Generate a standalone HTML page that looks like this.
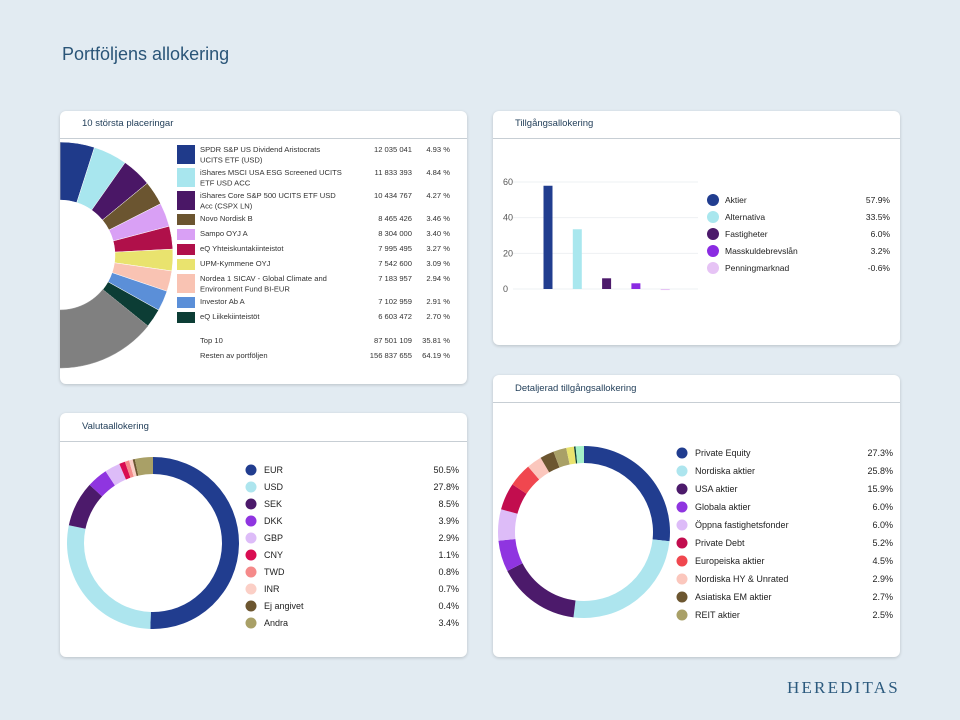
<!DOCTYPE html>
<html><head><meta charset="utf-8"><style>
body{margin:0;width:960px;height:720px;background:#e2ebf2;font-family:"Liberation Sans",sans-serif;position:relative;overflow:hidden}
.card{position:absolute;background:#fff;border-radius:6px;box-shadow:0 1px 3px rgba(0,0,0,.18);overflow:hidden}
.card .hd{position:absolute;left:0;right:0;top:0;border-bottom:1px solid #c7ced4;font-size:9.5px;color:#1f3c57;padding-left:22px;box-sizing:border-box}
svg{position:absolute;left:0;top:0}
svg text{font-family:"Liberation Sans",sans-serif}
</style></head><body>
<div style="position:absolute;left:62px;top:44px;font-size:18px;color:#2a5578">Portföljens allokering</div>
<div style="position:absolute;left:787px;top:678px;font-family:'Liberation Serif',serif;font-size:17px;letter-spacing:2.2px;color:#2c5a7e">HEREDITAS</div>

<div class="card" style="left:60px;top:111px;width:407px;height:273px">
 <div class="hd" style="height:28px;line-height:25px">10 största placeringar</div>
 <svg id="s1" width="407" height="273"></svg>
</div>
<div class="card" style="left:493px;top:111px;width:407px;height:234px">
 <div class="hd" style="height:28px;line-height:25px">Tillgångsallokering</div>
 <svg id="s2" width="407" height="234"></svg>
</div>
<div class="card" style="left:60px;top:413px;width:407px;height:244px">
 <div class="hd" style="height:29px;line-height:28px">Valutaallokering</div>
 <svg id="s3" width="407" height="244"></svg>
</div>
<div class="card" style="left:493px;top:375px;width:407px;height:282px">
 <div class="hd" style="height:28px;line-height:28px">Detaljerad tillgångsallokering</div>
 <svg id="s4" width="407" height="282"></svg>
</div>

<script>
// ---- data ----
const top10Names=[["SPDR S&P US Dividend Aristocrats","UCITS ETF (USD)"],["iShares MSCI USA ESG Screened UCITS","ETF USD ACC"],["iShares Core S&P 500 UCITS ETF USD","Acc (CSPX LN)"],["Novo Nordisk B"],["Sampo OYJ A"],["eQ Yhteiskuntakiinteistot"],["UPM-Kymmene OYJ"],["Nordea 1 SICAV - Global Climate and","Environment Fund BI-EUR"],["Investor Ab A"],["eQ Liikekiinteistöt"]];
const top10Amounts=["12 035 041","11 833 393","10 434 767","8 465 426","8 304 000","7 995 495","7 542 600","7 183 957","7 102 959","6 603 472"];
const top10Pct=[4.93,4.84,4.27,3.46,3.40,3.27,3.09,2.94,2.91,2.70];
const restPct=64.19;
const top10Colors=["#1f3a8a","#a8e6ee","#4a1766","#6b5530","#d9a0f5","#b0104a","#e9e36e","#f9c3b3","#5b8fd8","#0c3d35"];

const assetCats=["Aktier","Alternativa","Fastigheter","Masskuldebrevslån","Penningmarknad"];
const assetVals=[57.9,33.5,6.0,3.2,-0.6];
const assetTicks=[0,20,40,60];
const assetColors=["#213d8f","#a9e7ee","#4c1a6b","#8a2be2","#e6c3f5"];

const curCats=["EUR","USD","SEK","DKK","GBP","CNY","TWD","INR","Ej angivet","Andra"];
const curVals=[50.5,27.8,8.5,3.9,2.9,1.1,0.8,0.7,0.4,3.4];
const curColors=["#213d8f","#ade5ee","#4c1a6b","#8f35e0","#ddbcf8","#d90d52","#f58a8a","#fbcfc6","#6c5630","#a9a067"];

const detCats=["Private Equity","Nordiska aktier","USA aktier","Globala aktier","Öppna fastighetsfonder","Private Debt","Europeiska aktier","Nordiska HY & Unrated","Asiatiska EM aktier","REIT aktier"];
const detVals=[27.3,25.8,15.9,6.0,6.0,5.2,4.5,2.9,2.7,2.5];
const detExtraVals=[1.5,0.3,1.6];
const detColors=["#213d8f","#ade5ee","#4c1a6b","#8f35e0","#ddbcf8","#c20d4e","#f0474f","#fbc7bd","#6c5630","#a9a067"];
const detExtraColors=["#e9e36e","#0c3d35","#a4f0c8"];

const NS="http://www.w3.org/2000/svg";
function mk(svg,tag,attrs,txt){const e=document.createElementNS(NS,tag);for(const k in attrs)e.setAttribute(k,attrs[k]);if(txt!==undefined)e.textContent=txt;svg.appendChild(e);return e;}
function arc(cx,cy,r0,r1,a0,a1){
 const p=(r,a)=>[cx+r*Math.sin(a),cy-r*Math.cos(a)];
 const L=(a1-a0)>Math.PI?1:0;
 const [x0,y0]=p(r1,a0),[x1,y1]=p(r1,a1),[x2,y2]=p(r0,a1),[x3,y3]=p(r0,a0);
 return `M${x0},${y0}A${r1},${r1} 0 ${L} 1 ${x1},${y1}L${x2},${y2}A${r0},${r0} 0 ${L} 0 ${x3},${y3}Z`;
}

// ---- top 10 donut ----
(function(){
 const s=document.getElementById('s1');
 const vals=top10Pct.concat([restPct]);const cols=top10Colors.concat(["#808080"]);
 const tot=vals.reduce((a,b)=>a+b,0);let a=0;
 vals.forEach((v,i)=>{const a1=a+v/tot*2*Math.PI;
  const p=mk(s,'path',{d:arc(0,144,55,113,a,a1),fill:cols[i],stroke:i==10?'#9a9a9a':'#fff','stroke-width':0.5});
  
  a=a1;});
 let y=34;
 top10Names.forEach((nm,i)=>{
  const h=nm.length==2?23:15;
  const r=mk(s,'rect',{x:117,y:y,width:18,height:h-4,fill:top10Colors[i]});
  
  nm.forEach((t,j)=>{const tx=mk(s,'text',{x:140,y:y+7+j*10.5,'font-size':7.6,fill:'#333'},t);
   });
  const am=mk(s,'text',{x:352,y:y+7,'font-size':7.6,fill:'#333','text-anchor':'end'},top10Amounts[i]);
  
  const pc=mk(s,'text',{x:390,y:y+7,'font-size':7.6,fill:'#333','text-anchor':'end'},top10Pct[i].toFixed(2).replace('.',',').replace(',','.')+' %');
  
  y+=h;});
 [["Top 10","87 501 109","35.81 %",232],["Resten av portföljen","156 837 655","64.19 %",247]].forEach(r=>{
  const t=mk(s,'text',{x:140,y:r[3],'font-size':7.6,fill:'#333'},r[0]);
  const b=mk(s,'text',{x:352,y:r[3],'font-size':7.6,fill:'#333','text-anchor':'end'},r[1]);
  const c=mk(s,'text',{x:390,y:r[3],'font-size':7.6,fill:'#333','text-anchor':'end'},r[2]);});
})();

// ---- asset bar chart ----
(function(){
 const s=document.getElementById('s2');
 const y0=178,ppu=107/60;const yS=v=>y0-v*ppu;
 assetTicks.forEach(t=>{
  const l=mk(s,'line',{x1:20,x2:205,y1:yS(t),y2:yS(t),stroke:'#eef0f3','stroke-width':1});
  
  const tx=mk(s,'text',{x:10,y:yS(t)+3,'font-size':9,fill:'#555'},t);
  });
 const xS=i=>55+i*29.3;
 assetVals.forEach((v,i)=>{
  const top=Math.min(yS(v),yS(0)),h=Math.max(Math.abs(yS(v)-yS(0)),1);
  const r=mk(s,'rect',{x:xS(i)-4.5,y:top,width:9,height:h,fill:assetColors[i]});
  
  const ly=92+i*17;
  const c=mk(s,'circle',{cx:220,cy:ly-3,r:6,fill:assetColors[i]});
  const t=mk(s,'text',{x:232,y:ly,'font-size':8.5,fill:'#222'},assetCats[i]);
  const p=mk(s,'text',{x:397,y:ly,'font-size':8.5,fill:'#222','text-anchor':'end'},v.toFixed(1)+'%');});
})();

// ---- donut helper ----
function donut(id,cx,cy,vals,cols,cats,catVals,lx,ly0,step,vx,extraVals,extraCols){
 const s=document.getElementById(id);
 const all=vals.concat(extraVals||[]),ac=cols.concat(extraCols||[]);
 const tot=all.reduce((a,b)=>a+b,0);let a=0;
 all.forEach((v,i)=>{const a1=a+v/tot*2*Math.PI;
  const p=mk(s,'path',{d:arc(cx,cy,69,86,a,a1),fill:ac[i]});
  a=a1;});
 cats.forEach((c,i)=>{const y=ly0+i*step;
  const d=mk(s,'circle',{cx:lx,cy:y,r:5.5,fill:cols[i]});
  const t=mk(s,'text',{x:lx+13,y:y+3.2,'font-size':9,fill:'#222'},c);
  const p=mk(s,'text',{x:vx,y:y+3.2,'font-size':9,fill:'#222','text-anchor':'end'},catVals[i].toFixed(1)+'%');});
}
donut('s3',93,130,curVals,curColors,curCats,curVals,191,57,17,399);
donut('s4',91,157,detVals,detColors,detCats,detVals,189,78,18,400,detExtraVals,detExtraColors);
</script>
</body></html>
